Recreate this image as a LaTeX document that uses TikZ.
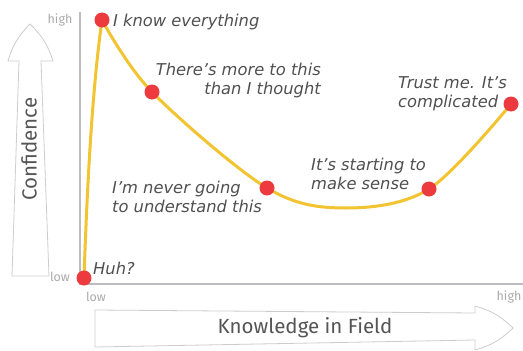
\documentclass[tikz,border=0pt]{standalone}
\usepackage{fontspec}
\newfontfamily\labfont{DejaVu Sans}
\newfontfamily\axfont{Fira Sans}
\definecolor{curveY}{HTML}{F2C431}
\definecolor{dotR}{HTML}{EC3A3E}
\definecolor{axisG}{HTML}{BBBBC0}
\definecolor{tickG}{HTML}{ABABAB}
\definecolor{labG}{HTML}{505050}
\definecolor{arrG}{HTML}{CDCDCD}
\definecolor{titleG}{HTML}{555555}
\begin{document}
\begin{tikzpicture}[x=1pt,y=-1pt,
  dot/.style={circle,fill=dotR,minimum size=15pt,inner sep=0},
  lab/.style={font=\labfont\itshape\fontsize{16.3}{18.5}\selectfont,text=labG,inner sep=0},
  tick/.style={font=\axfont\fontsize{12.5}{14}\selectfont,text=tickG,inner sep=0},
  ttl/.style={font=\axfont\fontsize{20.5}{24}\selectfont,text=titleG,inner sep=0},
  bigarrow/.style={draw=arrG,line width=0.8pt,fill=white,line join=round},
  curve/.style={draw=curveY,line width=3pt,line cap=round,line join=round}]
\fill[white] (0,0) rectangle (523,351);
\useasboundingbox (0,0) rectangle (523,351);
% big arrows
\draw[bigarrow] (12,276) -- (19,61) -- (8,61) to[bend left=14] (30,24) to[bend left=14] (53,61) -- (41,61) -- (49,276) -- cycle;
\draw[bigarrow] (95,310) -- (475,313) -- (475,306) to[bend left=14] (513,328) to[bend left=14] (475,350) -- (475,340) -- (95,347) -- cycle;
\node[ttl,rotate=90] (cf) at (29,149) {Confidence};
\node[ttl] (kf) at (305,328) {Knowledge in Field};
% axes
\coordinate (ytop) at (80,12);
\coordinate (orig) at (80,284);
\coordinate (xend) at (523,284);
\draw[axisG,line width=2.5pt] (ytop) -- (orig) -- (xend);
\node[tick] (yh) at (60,20) {high};
\node[tick] (yl) at (60,277) {low};
\node[tick] (xl) at (96,297) {low};
\node[tick] (xh) at (509,297) {high};
% curve
\coordinate (c0) at (84,278);
\coordinate (c1) at (102,20);
\coordinate (c2) at (152,92);
\coordinate (c3) at (267,188);
\coordinate (cm) at (345,208);
\coordinate (c4) at (429,189);
\coordinate (c5) at (511,104);
\draw[curve] (c0) .. controls (87,190) and (92,90) .. (c1);
\draw[curve] plot[smooth,tension=0.55] coordinates {(c1) (c2) (c3) (cm) (c4) (c5)};
\node[dot] (d0) at (c0) {};
\node[dot] (d1) at (c1) {};
\node[dot] (d2) at (c2) {};
\node[dot] (d3) at (c3) {};
\node[dot] (d4) at (c4) {};
\node[dot] (d5) at (c5) {};
% labels
\node[lab,anchor=base west] (l0) at (93,274) {Huh?};
\node[lab,anchor=base west] (l1) at (113,26) {I know everything};
\node[lab,anchor=base east,align=right] (l2) at (321,94) {There’s more to this\\than I thought};
\node[lab,anchor=base west,align=left] (l3) at (112,212) {I’m never going\\to understand this};
\node[lab,anchor=base west,align=left] (l4) at (311,189) {It’s starting to\\make sense};
\node[lab,anchor=base west,align=left] (l5) at (398,107) {Trust me. It’s\\complicated};
\end{tikzpicture}
\end{document}
